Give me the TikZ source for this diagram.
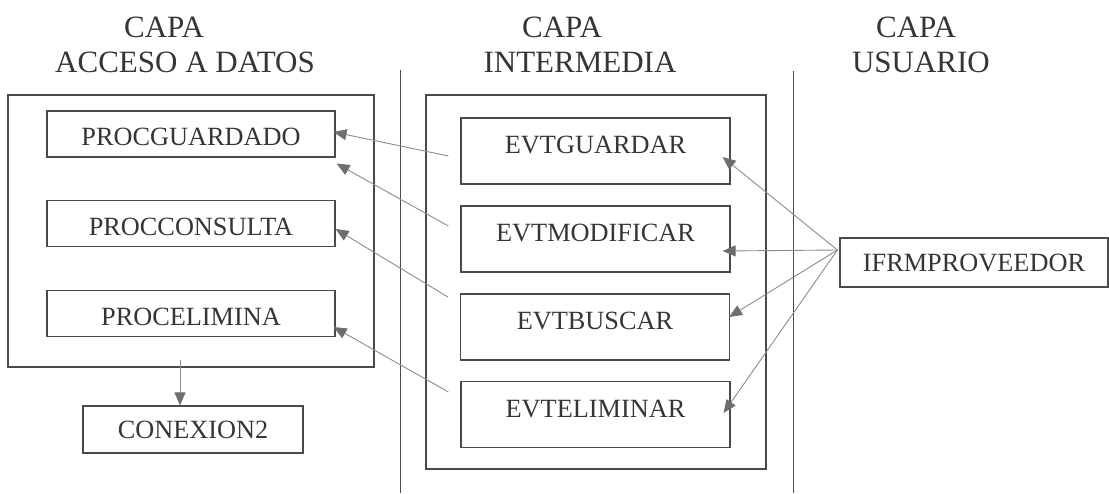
\documentclass[tikz,border=0pt]{standalone}
\usepackage{fontspec}
\setmainfont{Liberation Serif}
\usetikzlibrary{arrows.meta,calc}
\definecolor{boxc}{HTML}{4A4A4A}
\definecolor{linec}{HTML}{8C8C8C}
\definecolor{tipc}{HTML}{6E6E6E}
\definecolor{txtc}{HTML}{353535}
\begin{document}
\begin{tikzpicture}[x=1pt,y=-1pt,
  box/.style={draw=boxc, line width=1.2pt, inner sep=0pt, text=txtc,
    font=\fontsize{26.3}{28}\selectfont},
  procbox/.style={box, minimum width=288pt, minimum height=46pt, text height=23pt, text depth=0pt},
  evtbox/.style={box, minimum width=269pt, minimum height=66pt, text depth=11.5pt},
  frame/.style={draw=boxc, line width=1.1pt, inner sep=0pt},
  sep/.style={draw=boxc, line width=1pt},
  conn/.style={draw=linec, line width=0.9pt, -{Triangle[length=13pt,width=11pt,color=tipc]}},
  head/.style={text=txtc, font=\fontsize{31}{33}\selectfont, inner sep=0pt, anchor=base}]
\useasboundingbox (0,0) rectangle (1109,493);

% headings
\node[head] (h1a) at (164,37) {CAPA};
\node[head] (h1b) at (185,72) {ACCESO A DATOS};
\node[head] (h2a) at (562,37) {CAPA};
\node[head] (h2b) at (580,72) {INTERMEDIA};
\node[head] (h3a) at (916,37) {CAPA};
\node[head] (h3b) at (921,72) {USUARIO};

% separators
\coordinate (s1t) at (400,70);
\coordinate (s1b) at (400,493);
\coordinate (s2t) at (793,71);
\coordinate (s2b) at (793,493);
\draw[sep] (s1t) -- (s1b);
\draw[sep] (s2t) -- (s2b);

% frames
\node[frame, minimum width=366pt, minimum height=272pt] (la) at (191,231) {};
\node[frame, minimum width=340pt, minimum height=374pt] (ma) at (596,282) {};

% data access layer
\node[procbox] (pg) at (191,134) {PROCGUARDADO};
\node[procbox] (pc) at (191,223.5) {PROCCONSULTA};
\node[procbox] (pe) at (191,313.5) {PROCELIMINA};
\node[box, minimum width=220pt, minimum height=47pt] (cx) at (193,429.5) {CONEXION2};

% intermediate layer
\node[evtbox] (eg) at (595.5,151) {EVTGUARDAR};
\node[evtbox] (em) at (595.5,239) {EVTMODIFICAR};
\node[evtbox] (eb) at (595,327) {EVTBUSCAR};
\node[evtbox] (ee) at (595.5,414.5) {EVTELIMINAR};

% user layer
\node[box, minimum width=268pt, minimum height=49pt] (ifr) at (974,262.5) {IFRMPROVEEDOR};

% connectors
\coordinate (hub) at ($(ifr.west)+(-2,-12.5)$);
\draw[conn] (hub) -- ($(eg.east)+(-8,6)$);
\draw[conn] (hub) -- ($(em.east)+(-8,12)$);
\draw[conn] (hub) -- ($(eb.east)+(-1,-10)$);
\draw[conn] (hub) -- ($(ee.east)+(-7,-1.5)$);

\draw[conn] ($(eg.west)+(-12,5)$) -- ($(pg.east)+(-2,-2)$);
\draw[conn] ($(em.west)+(-12,-13)$) -- ($(pg.south east)+(1,6)$);
\draw[conn] ($(eb.west)+(-12,-30)$) -- ($(pc.east)+(0,5.5)$);
\draw[conn] ($(ee.west)+(-12,-22.5)$) -- ($(pe.east)+(-2,13.5)$);

\draw[conn] ($(la.south)+(-11,-8)$) -- ($(cx.north)+(-13,0)$);
\end{tikzpicture}
\end{document}
